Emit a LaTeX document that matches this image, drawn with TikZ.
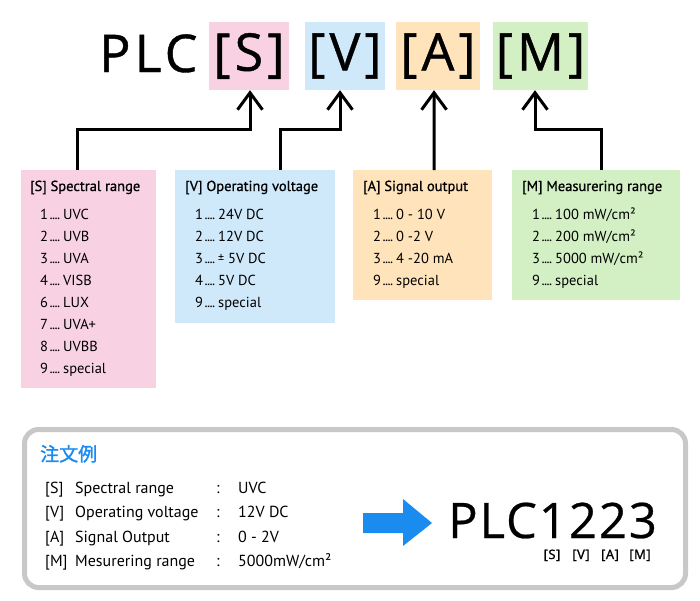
\documentclass[tikz,border=0pt]{standalone}
\usepackage{fontspec}
\setmainfont{PT Sans}
\newfontfamily\titlefont[FakeBold=0.8]{PT Sans}
\newfontfamily\bigfont[LetterSpace=8, FakeBold=0.8]{Open Sans}
\newfontfamily\codefont[LetterSpace=4, FakeBold=0.5]{Open Sans}
\newfontfamily\tagfont[LetterSpace=4, FakeBold=1.5]{Open Sans}
\newfontfamily\cjkfont[FakeBold=1.5]{Noto Sans CJK JP}
\usepackage{tikz}
\usetikzlibrary{positioning, calc}
\usetikzlibrary{arrows.meta}

\definecolor{pinkbg}{HTML}{F8D1E3}
\definecolor{bluebg}{HTML}{CFE9FB}
\definecolor{orangebg}{HTML}{FFE4BB}
\definecolor{greenbg}{HTML}{D3F0C4}
\definecolor{framegray}{HTML}{C8C8C8}
\definecolor{orderblue}{HTML}{1A8CF0}

\newcommand{\itemdots}{\kern1.5pt.\kern-0.6pt.\kern-0.6pt.\kern-0.6pt.\kern3pt}

\begin{document}
\begin{tikzpicture}[x=1pt, y=-1pt, draw=black!100]
	\def \titlerow{191}
	\def \itemrow{219}
	\def \itemstep{22}
	\def \orderrow{493}
	\def \orderstep{24.5}
	\tikzstyle{code-box}=[inner sep=0pt, minimum width=80pt, minimum height=68pt, font=\bigfont\fontsize{52}{60}\selectfont]
	\tikzstyle{list-box}=[inner sep=0pt, anchor=north west]
	\tikzstyle{list-title}=[inner sep=0pt, anchor=base west, font=\titlefont\fontsize{14.5}{16}\selectfont]
	\tikzstyle{list-item}=[inner sep=0pt, anchor=base west, font=\fontsize{14.5}{16}\selectfont]
	\tikzstyle{order-text}=[inner sep=0pt, anchor=base west, font=\fontsize{16}{18}\selectfont]
	\tikzstyle{tag}=[inner sep=0pt, anchor=base, font=\tagfont\fontsize{13}{15}\selectfont]
	\tikzstyle{link}=[line width=3pt, -{Straight Barb[length=17pt, width=25pt]}]
	\useasboundingbox (0,0) rectangle (700,600);

	% code on top
	\node[inner sep=0pt, anchor=base west, font=\bigfont\fontsize{52}{60}\selectfont] (plc) at (99,72) {PLC};
	\node[code-box, fill=pinkbg, minimum width=80pt] 	(sbox)	at (249,56)		{[S]};
	\node[code-box, fill=bluebg, minimum width=80pt] 	(vbox)	at (345,56)		{[V]};
	\node[code-box, fill=orangebg, minimum width=84pt] 	(abox)	at (438,56)		{[A]};
	\node[code-box, fill=greenbg, minimum width=95pt] 	(mbox)	at (540.5,56)	{[M]};

	% option lists
	\node[list-box, fill=pinkbg, minimum width=135pt, minimum height=218pt] 	(slist)	at (21,170)		{};
	\node[list-box, fill=bluebg, minimum width=160pt, minimum height=153pt] 	(vlist)	at (175,170)	{};
	\node[list-box, fill=orangebg, minimum width=139pt, minimum height=130pt] 	(alist)	at (353,170)	{};
	\node[list-box, fill=greenbg, minimum width=168pt, minimum height=130pt] 	(mlist)	at (512,170)	{};

	\node[list-title] (stitle) at (30,\titlerow) {[S] Spectral range};
	\node[list-title] (vtitle) at (185,\titlerow) {[V] Operating voltage};
	\node[list-title] (atitle) at (363,\titlerow) {[A] Signal output};
	\node[list-title] (mtitle) at (522,\titlerow) {[M] Measurering range};

	\foreach \n/\t [count=\i] in {1/UVC, 2/UVB, 3/UVA, 4/VISB, 6/LUX, 7/UVA+, 8/UVBB, 9/special}
		\node[list-item] (s\i) at (40,{\itemrow+\itemstep*(\i-1)}) {\n\itemdots\t};
	\foreach \n/\t [count=\i] in {1/24V DC, 2/12V DC, 3/{\raisebox{0.5pt}{\large ±} 5V DC}, 4/5V DC, 9/special}
		\node[list-item] (v\i) at (195,{\itemrow+\itemstep*(\i-1)}) {\n\itemdots\t};
	\foreach \n/\t [count=\i] in {1/{0 - 10 V}, 2/{0 -2 V}, 3/{4 -20 mA}, 9/special}
		\node[list-item] (a\i) at (373,{\itemrow+\itemstep*(\i-1)}) {\n\itemdots\t};
	\foreach \n/\t [count=\i] in {1/{100 mW/cm²}, 2/{200 mW/cm²}, 3/{5000 mW/cm²}, 9/special}
		\node[list-item] (m\i) at (532,{\itemrow+\itemstep*(\i-1)}) {\n\itemdots\t};

	% connectors
	\draw[link] ([xshift=-11.5pt]slist.north) |- ([xshift=1pt, yshift=-39pt]sbox.south) -- ([xshift=1pt]sbox.south);
	\draw[link] ([xshift=25pt]vlist.north) |- ([xshift=-5pt, yshift=-39pt]vbox.south) -- ([xshift=-5pt]vbox.south);
	\draw[link] ([xshift=11.5pt]alist.north) -- ([xshift=-4pt]abox.south);
	\draw[link] ([xshift=5pt]mlist.north) |- ([xshift=-5.5pt, yshift=-39pt]mbox.south) -- ([xshift=-5.5pt]mbox.south);

	% order example
	\node[draw=framegray, line width=5pt, rounded corners=14pt, anchor=north west, minimum width=661pt, minimum height=158pt] (order) at (22,427) {};
	\node[inner sep=0pt, anchor=base west, text=orderblue, font=\cjkfont\fontsize{19}{22}\selectfont] (ordertitle) at (40,461) {注文例};
	\foreach \k/\t/\v [count=\i] in {[S]/Spectral range/UVC, [V]/Operating voltage/12V DC, [A]/Signal Output/0 - 2V, [M]/Mesurering range/{5000mW/cm²}} {
		\node[order-text] (ok\i) at (45,{\orderrow+\orderstep*(\i-1)}) {\k};
		\node[order-text] (on\i) at (75,{\orderrow+\orderstep*(\i-1)}) {\t};
		\node[order-text] (oc\i) at (216,{\orderrow+\orderstep*(\i-1)}) {:};
		\node[order-text] (ov\i) at (238,{\orderrow+\orderstep*(\i-1)}) {\v};
	}
	\fill[orderblue] (363,513) -- (403,513) -- (403,499) -- (432,523) -- (403,546) -- (403,533) -- (363,533) -- cycle;
	\node[inner sep=0pt, anchor=base west, font=\codefont\fontsize{49}{56}\selectfont] (code) at (448,538) {PLC1223};
	\node[tag] (tags) at (552,559) {[S]};
	\node[tag] (tagv) at (581,559) {[V]};
	\node[tag] (taga) at (610,559) {[A]};
	\node[tag] (tagm) at (640,559) {[M]};
\end{tikzpicture}
\end{document}
